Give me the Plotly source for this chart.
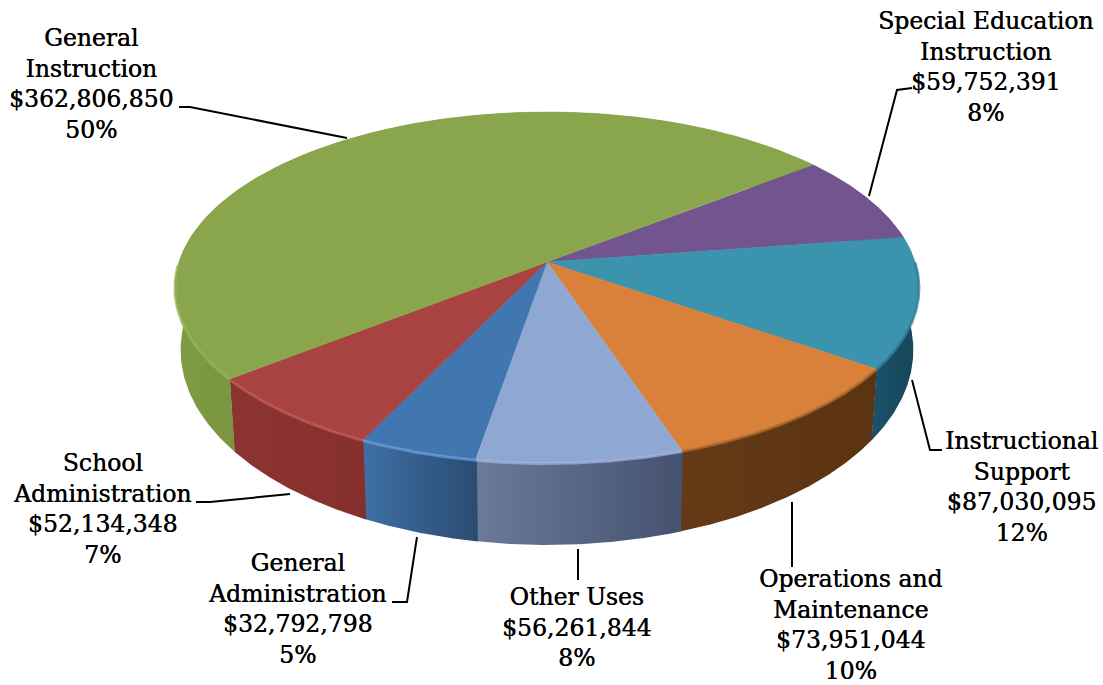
import numpy as np
import plotly.graph_objects as go

categories = ["Special Education<br>Instruction", "Instructional<br>Support",
              "Operations and<br>Maintenance", "Other Uses",
              "General<br>Administration", "School<br>Administration",
              "General<br>Instruction"]
amounts = [59752391, 87030095, 73951044, 56261844, 32792798, 52134348, 362806850]

top_colors = ["#72548F", "#3C93AE", "#D9803A", "#8FA8D3", "#4177B0", "#A84341", "#8AA64C"]
rim_left = ["#4A3560", "#1A5068", "#653A16", "#6C7A99", "#3F70A6", "#8C3431", "#7E9C44"]
rim_right = ["#4A3560", "#174558", "#5A3312", "#445270", "#2A4B72", "#86302D", "#7A9640"]
edge_colors = ["#72548F", "#2F7F99", "#B06A2E", "#A3B3DE", "#6A9DD6", "#C05C57", "#95B454"]

label_pos = [(985, 67), (1021, 487), (850, 625), (577, 627), (297, 609), (102, 509), (91, 84)]
leaders = [[(869, 196), (897, 90), (912, 88)],
           [(912, 380), (930, 450), (942, 450)],
           [(792, 502), (792, 567)],
           [(578, 549), (578, 580)],
           [(417, 537), (407, 602), (392, 602)],
           [(196, 502), (210, 502), (290, 494)],
           [(179, 107), (190, 107), (347, 138)]]

CX, CY, RX, RY, PERSP = 547.0, 262.0, 368.0, 171.8, 0.1453
START_DEG = 38.1
BOTTOM_DY, BOTTOM_SX, BOTTOM_SY = 59.6, 0.985, 1.111
SEAM = np.radians(0.1)


def project(t, dy=0.0, sx=1.0, sy=1.0):
    w = 1 + PERSP * np.sin(t)
    return CX + sx * RX * np.cos(t) / w, CY + dy - sy * RY * np.sin(t) / w


total = sum(amounts)
edges = np.radians(START_DEG) - 2 * np.pi * np.concatenate([[0], np.cumsum(amounts)]) / total
fig = go.Figure()

# rim first, so that the top faces cover its hidden back part
for i in range(len(amounts)):
    t = np.linspace(edges[i] + SEAM, edges[i + 1], 160)
    x1, y1 = project(t)
    x2, y2 = project(t[::-1], BOTTOM_DY, BOTTOM_SX, BOTTOM_SY)
    x = np.concatenate([x1, x2])
    y = np.concatenate([y1, y2])
    front = np.sin(t) < 0.02
    xf = x1[front] if front.any() else x1
    fig.add_trace(go.Scatter(
        x=x, y=y, mode="lines", line=dict(width=0), fill="toself",
        fillgradient=dict(type="horizontal", start=float(xf.min()), stop=float(xf.max()),
                          colorscale=[[0, rim_left[i]], [1, rim_right[i]]]),
        hoverinfo="skip", showlegend=False))

# top faces
for i in range(len(amounts)):
    t = np.linspace(edges[i], edges[i + 1], 160)
    x1, y1 = project(t)
    fig.add_trace(go.Scatter(
        x=np.concatenate([[CX], x1, [CX]]), y=np.concatenate([[CY], y1, [CY]]),
        mode="lines", line=dict(width=0.5, color=top_colors[i]), fill="toself",
        fillcolor=top_colors[i], hoverinfo="skip", showlegend=False))

# bevel along the front edge
for i in range(len(amounts)):
    t = np.linspace(edges[i], edges[i + 1], 160)
    x1, y1 = project(t, 0.5)
    keep = np.sin(t) < 0.0
    if keep.any():
        fig.add_trace(go.Scatter(
            x=x1[keep], y=y1[keep], mode="lines", opacity=0.75,
            line=dict(width=3, color=edge_colors[i]), hoverinfo="skip", showlegend=False))

# leader lines
for pts in leaders:
    fig.add_trace(go.Scatter(
        x=[p[0] for p in pts], y=[p[1] for p in pts], mode="lines",
        line=dict(width=2, color="black"), hoverinfo="skip", showlegend=False))

for name, amount, (lx, ly) in zip(categories, amounts, label_pos):
    fig.add_annotation(
        x=lx, y=ly, xref="x", yref="y", showarrow=False, xanchor="center", yanchor="middle",
        align="center", text=f"{name}<br>${amount:,}<br>{round(100 * amount / total)}%",
        font=dict(family="DejaVu Serif", size=23.5, color="black", shadow="0.4px 0 0 black"))

fig.update_layout(
    width=1103, height=685, margin=dict(l=0, r=0, t=0, b=0),
    paper_bgcolor="white", plot_bgcolor="white", showlegend=False,
    xaxis=dict(range=[0, 1103], visible=False, fixedrange=True),
    yaxis=dict(range=[685, 0], visible=False, fixedrange=True))
fig.write_html("out.html", config={"displayModeBar": False},
               post_script="document.body.style.margin='0';document.documentElement.style.overflow='hidden';")
